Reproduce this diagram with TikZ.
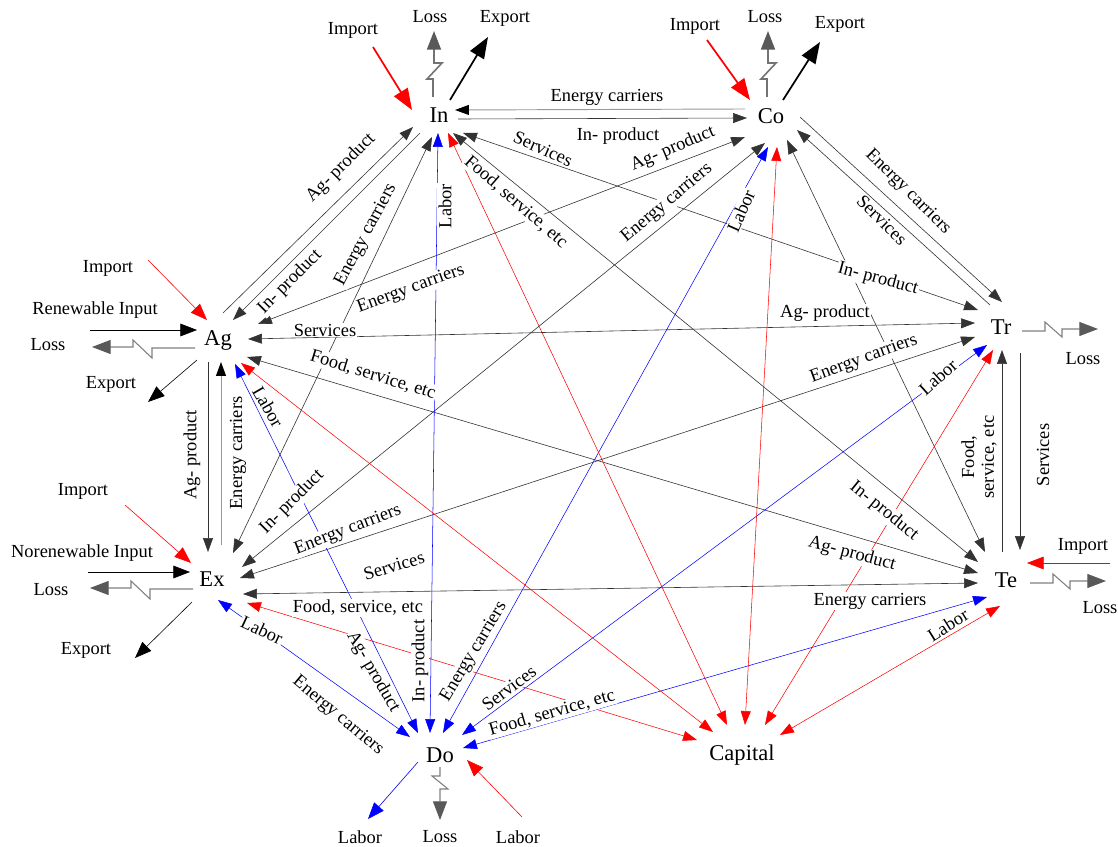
\documentclass[tikz,border=0pt]{standalone}
\usepackage{fontspec}
\setmainfont{Liberation Serif}
\usetikzlibrary{arrows.meta}
\tikzset{
  Hd/.tip={Triangle[length=10.5pt,width=7.5pt]},
  Hk/.tip={Triangle[length=10.5pt,width=7.5pt,color=black]},
  Hm/.tip={Triangle[length=12.5pt,width=9.5pt]},
  Hb/.tip={Triangle[length=16pt,width=12pt]},
  Hl/.tip={Triangle[length=14pt,width=10.5pt,color=black!65]},
  nm/.style={font=\fontsize{17}{19}\selectfont, inner sep=0pt, anchor=base},
  lb/.style={font=\fontsize{13.9}{15}\selectfont, fill=white, inner sep=0.8pt},
  ext/.style={font=\fontsize{13.9}{15}\selectfont, inner sep=0pt},
  bk/.style={draw=black!80, line width=0.45pt},
  gr/.style={draw=black!40, line width=0.7pt},
  bl/.style={draw=blue, line width=0.4pt},
  rd/.style={draw=red, line width=0.4pt},
  one/.style={-Hd},
  two/.style={Hd-Hd},
  imp/.style={draw=red, line width=1.3pt, -Hb},
  exo/.style={draw=black, line width=1.3pt, -Hb},
  impt/.style={draw=red, line width=0.45pt, -Hm},
  expt/.style={draw=black, line width=0.45pt, -Hm},
  labout/.style={draw=blue, line width=0.45pt, -Hm},
  loss/.style={draw=black!50, line width=0.8pt, -Hl},
  lossv/.style={draw=black!55, line width=1.2pt, -Hl},
}
\begin{document}
\begin{tikzpicture}[x=0.0265cm,y=-0.0265cm]
\fill[white] (0,0) rectangle (1118,847);
\useasboundingbox (0,0) rectangle (1118,847);

% main nodes
\node[nm] (In) at (439,123) {In};
\node[nm] (Co) at (771,124) {Co};
\node[nm] (Ag) at (218,346) {Ag};
\node[nm] (Tr) at (1001,335) {Tr};
\node[nm] (Ex) at (212,586) {Ex};
\node[nm] (Te) at (1006,587) {Te};
\node[nm] (Do) at (440,762) {Do};
\node[nm] (Cap) at (742,760) {Capital};

% adjacent pairs
\draw[gr,-Hk] ([shift={(-26,-15)}]Co.base) -- ([shift={(16,-13)}]In.base);
\draw[bk,one] ([shift={(19,-4)}]In.base) -- ([shift={(-24,-6)}]Co.base);
\draw[bk,one] ([shift={(5,-33)}]Ag.base) -- ([shift={(-26,4)}]In.base);
\draw[bk,one] ([shift={(-19,10)}]In.base) -- ([shift={(15,-26)}]Ag.base);
\draw[bk,one] ([shift={(-10,16)}]Ag.base) -- ([shift={(-4,-34)}]Ex.base);
\draw[gr,-Hk] ([shift={(9,-41)}]Ex.base) -- ([shift={(3,16)}]Ag.base);
\draw[bk,one] ([shift={(29,-7)}]Co.base) -- ([shift={(1,-33)}]Tr.base);
\draw[bk,one] ([shift={(-11,-30)}]Tr.base) -- ([shift={(26,6)}]Co.base);
\draw[bk,one] ([shift={(-4,-35)}]Te.base) -- ([shift={(1,15)}]Tr.base);
\draw[bk,one] ([shift={(19,18)}]Tr.base) -- ([shift={(14,-37)}]Te.base);

% long two-way black connectors
\draw[bk,two] ([shift={(-7,14)}]In.base) -- ([shift={(21,-33)}]Ex.base);
\draw[bk,two] ([shift={(24,10)}]In.base) -- ([shift={(-23,-25)}]Tr.base);
\draw[bk,two] ([shift={(14,10)}]In.base) -- ([shift={(-28,-25)}]Te.base);
\draw[bk,two] ([shift={(-26,13)}]Co.base) -- ([shift={(40,-22)}]Ag.base);
\draw[bk,two] ([shift={(-6,19)}]Co.base) -- ([shift={(30,-19)}]Ex.base);
\draw[bk,two] ([shift={(16,16)}]Co.base) -- ([shift={(-21,-35)}]Te.base);
\draw[bk,two] ([shift={(30,-7)}]Ag.base) -- ([shift={(-26,-12)}]Tr.base);
\draw[bk,two] ([shift={(29,11)}]Ag.base) -- ([shift={(-28,-14)}]Te.base);
\draw[bk,two] ([shift={(28,-8)}]Ex.base) -- ([shift={(-26,2)}]Tr.base);
\draw[bk,two] ([shift={(31,8)}]Ex.base) -- ([shift={(-28,-4)}]Te.base);

% blue Do connectors
\draw[bl,two] ([shift={(-30,-25)}]Do.base) -- ([shift={(6,14)}]Ex.base);
\draw[bl,two] ([shift={(-22,-29)}]Do.base) -- ([shift={(17,18)}]Ag.base);
\draw[bl,two] ([shift={(-10,-29)}]Do.base) -- ([shift={(-1,10)}]In.base);
\draw[bl,two] ([shift={(3,-29)}]Do.base) -- ([shift={(-3,23)}]Co.base);
\draw[bl,two] ([shift={(22,-27)}]Do.base) -- ([shift={(-14,10)}]Tr.base);
\draw[bl,two] ([shift={(23,-14)}]Do.base) -- ([shift={(-19,10)}]Te.base);

% red Capital connectors
\draw[rd,two] ([shift={(-45,-20)}]Cap.base) -- ([shift={(35,17)}]Ex.base);
\draw[rd,two] ([shift={(-29,-28)}]Cap.base) -- ([shift={(23,17)}]Ag.base);
\draw[rd,two] ([shift={(-15,-35)}]Cap.base) -- ([shift={(9,10)}]In.base);
\draw[rd,two] ([shift={(3,-35)}]Cap.base) -- ([shift={(6,23)}]Co.base);
\draw[rd,two] ([shift={(23,-35)}]Cap.base) -- ([shift={(-8,15)}]Tr.base);
\draw[rd,two] ([shift={(38,-25)}]Cap.base) -- ([shift={(-6,19)}]Te.base);

% external flows
\draw[imp] ([shift={(-66,-76)}]In.base) -- ([shift={(-27,-13)}]In.base);
\draw[lossv] ([shift={(-6,-26)}]In.base) -- ++(0,-18) -- ++(-6,0) -- ++(15,-16) -- ++(-8,0) -- ++(0,-32);
\draw[exo] ([shift={(11,-23)}]In.base) -- ++(38,-63);
\draw[imp] ([shift={(-64,-84)}]Co.base) -- ([shift={(-21,-24)}]Co.base);
\draw[lossv] ([shift={(-4,-27)}]Co.base) -- ++(0,-18) -- ++(-6,0) -- ++(15,-16) -- ++(-8,0) -- ++(0,-32);
\draw[exo] ([shift={(12,-24)}]Co.base) -- ++(37,-58);

\draw[impt] ([shift={(-70,-86)}]Ag.base) -- ([shift={(-11,-26)}]Ag.base);
\draw[expt] ([shift={(-128,-16)}]Ag.base) -- ([shift={(-21,-16)}]Ag.base);
\draw[loss] ([shift={(-23,2)}]Ag.base) -- ++(-43,0) -- ++(0,10) -- ++(-19,-18) -- ++(0,7) -- ++(-41,0);
\draw[expt] ([shift={(-21,14)}]Ag.base) -- ++(-49,42);

\draw[impt] ([shift={(-87,-81)}]Ex.base) -- ([shift={(-21,-23)}]Ex.base);
\draw[expt] ([shift={(-124,-14)}]Ex.base) -- ([shift={(-22,-14)}]Ex.base);
\draw[loss] ([shift={(-19,3)}]Ex.base) -- ++(-43,0) -- ++(0,10) -- ++(-19,-18) -- ++(0,7) -- ++(-41,0);
\draw[expt] ([shift={(-20,16)}]Ex.base) -- ++(-57,56);

\draw[loss] ([shift={(21,-4)}]Tr.base) -- ++(23,0) -- ++(0,-9) -- ++(17,15) -- ++(0,-8) -- ++(36,0);
\draw[impt] ([shift={(104,-24)}]Te.base) -- ([shift={(21,-24)}]Te.base);
\draw[loss] ([shift={(24,-4)}]Te.base) -- ++(23,0) -- ++(0,-9) -- ++(17,15) -- ++(0,-8) -- ++(36,0);

\draw[labout] ([shift={(-22,0)}]Do.base) -- ++(-50,57);
\draw[loss] ([shift={(0,5)}]Do.base) -- ++(0,9) -- ++(-8,0) -- ++(16,13) -- ++(-8,0) -- ++(0,31);
\draw[impt] ([shift={(82,55)}]Do.base) -- ([shift={(27,-2)}]Do.base);

% connector labels
\node[lb] (l1) at (607,97) {Energy carriers};
\node[lb] (l2) at (618,136) {In- product};
\node[lb,rotate=45] (l3) at (341,168) {Ag- product};
\node[lb,rotate=45] (l4) at (290,282) {In- product};
\node[lb,rotate=62] (l5) at (366,235) {Energy carriers};
\node[lb,rotate=90] (l6) at (445,206) {Labor};
\node[lb,rotate=-41] (l7) at (516,202) {Food, service, etc};
\node[lb,rotate=-24] (l8) at (543,149) {Services};
\node[lb,rotate=23] (l9) at (673,149) {Ag- product};
\node[lb,rotate=40] (l10) at (667,203) {Energy carriers};
\node[lb,rotate=66] (l11) at (741,211) {Labor};
\node[lb,rotate=-45] (l12) at (908,192) {Energy carriers};
\node[lb,rotate=-45] (l13) at (882,220) {Services};
\node[lb,rotate=-15] (l14) at (878,279) {In- product};
\node[lb] (l15) at (825,313) {Ag- product};
\node[lb,rotate=20] (l16) at (864,359) {Energy carriers};
\node[lb,rotate=42] (l17) at (938,377) {Labor};
\node[ext,rotate=90,align=center] (l18) at (979,457) {Food,\\service, etc};
\node[lb,rotate=90] (l19) at (1043,455) {Services};
\node[lb,rotate=-39] (l20) at (884,511) {In- product};
\node[lb,rotate=-15] (l21) at (852,554) {Ag- product};
\node[lb] (l22) at (870,601) {Energy carriers};
\node[lb,rotate=32] (l23) at (948,625) {Labor};
\node[lb,rotate=90] (l24) at (192,455) {Ag- product};
\node[lb,rotate=90] (l25) at (238,453) {Energy carriers};
\node[lb,rotate=-60] (l26) at (268,407) {Labor};
\node[lb,rotate=20] (l27) at (411,289) {Energy carriers};
\node[lb] (l28) at (325,330) {Services};
\node[lb,rotate=-17] (l29) at (373,375) {Food, service, etc};
\node[lb,rotate=45] (l30) at (292,502) {In- product};
\node[lb,rotate=21] (l31) at (348,530) {Energy carriers};
\node[lb,rotate=17] (l32) at (394,566) {Services};
\node[lb] (l33) at (358,608) {Food, service, etc};
\node[lb,rotate=-25] (l34) at (262,630) {Labor};
\node[lb,rotate=-40] (l35) at (338,716) {Energy carriers};
\node[lb,rotate=-60] (l36) at (373,672) {Ag- product};
\node[lb,rotate=90] (l37) at (420,661) {In- product};
\node[lb,rotate=59] (l38) at (474,652) {Energy carriers};
\node[lb,rotate=37] (l39) at (509,688) {Services};
\node[lb,rotate=16] (l40) at (552,713) {Food, service, etc};

% external labels
\node[ext] (e1) at (353,30) {Import};
\node[ext] (e2) at (430,17) {Loss};
\node[ext] (e3) at (505,18) {Export};
\node[ext] (e4) at (695,26) {Import};
\node[ext] (e5) at (765,17) {Loss};
\node[ext] (e6) at (840,24) {Export};
\node[ext] (e7) at (108,268) {Import};
\node[ext] (e8) at (95,310) {Renewable Input};
\node[ext] (e9) at (48,345) {Loss};
\node[ext] (e10) at (111,384) {Export};
\node[ext] (e11) at (83,491) {Import};
\node[ext] (e12) at (82,553) {Norenewable Input};
\node[ext] (e13) at (51,590) {Loss};
\node[ext] (e14) at (86,650) {Export};
\node[ext] (e15) at (1083,359) {Loss};
\node[ext] (e16) at (1083,546) {Import};
\node[ext] (e17) at (1100,608) {Loss};
\node[ext] (e18) at (360,837) {Labor};
\node[ext] (e19) at (440,837) {Loss};
\node[ext] (e20) at (518,837) {Labor};
\end{tikzpicture}
\end{document}
